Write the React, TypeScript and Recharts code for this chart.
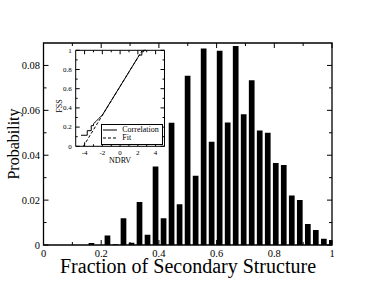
import React from "react";
import { BarChart, Bar, XAxis, YAxis, ReferenceArea, LineChart, Line, Legend } from "recharts";

const FONT = '"Liberation Serif", "Times New Roman", Times, serif';

// histogram: bin centres and probabilities
const binCenters = [
  0.1667, 0.1944, 0.2222, 0.25, 0.2778, 0.3056, 0.3333, 0.3611, 0.3889, 0.4167,
  0.4444, 0.4722, 0.5, 0.5278, 0.5556, 0.5833, 0.6111, 0.6389, 0.6667, 0.6944,
  0.7222, 0.75, 0.7778, 0.8056, 0.8333, 0.8611, 0.8889, 0.9167, 0.9444, 0.9722, 1.0,
];
const probability = [
  0.0009, 0, 0.0042, 0.0003, 0.0119, 0.001, 0.0192, 0.0046, 0.035, 0.0119,
  0.0545, 0.0182, 0.0754, 0.0308, 0.0875, 0.046, 0.0866, 0.0546, 0.0887, 0.0582,
  0.0734, 0.051, 0.05, 0.0365, 0.0356, 0.022, 0.0201, 0.0094, 0.0067, 0.0028, 0.0022,
];

const majorX = [0, 0.2, 0.4, 0.6, 0.8, 1];
const minorX = [0.1, 0.3, 0.5, 0.7, 0.9];
const majorY = [0, 0.02, 0.04, 0.06, 0.08];
const minorY = [0.01, 0.03, 0.05, 0.07];

// inset: cumulative correlation (stair corners) vs fit
const corrNdrv = [
  -4.4, -3.7, -3.7, -3.25, -3.25, -3.0, -3.0, -2.7, -2.4, -2.0, -1.0, 0, 1.0, 2.0,
  2.15, 2.45, 2.45, 2.65, 2.65, 2.9,
];
const corrFss = [
  0.115, 0.115, 0.163, 0.163, 0.215, 0.215, 0.235, 0.26, 0.29, 0.325, 0.475, 0.625,
  0.775, 0.925, 0.95, 0.95, 0.985, 0.985, 1.0, 1.0,
];
const fitNdrv = [-4.14, 2.5];
const fitFss = [0, 1];

const ndrvMajor = [-4, -2, 0, 2, 4];
const ndrvMinor = [-3, -1, 1, 3];
const fssMajor = [0, 0.2, 0.4, 0.6, 0.8, 1];
const fssMinor = [0.1, 0.3, 0.5, 0.7, 0.9];

const histData = binCenters.map((x, i) => ({ x, p: probability[i] }));
const corrData = corrNdrv.map((ndrv, i) => ({ ndrv, fss: corrFss[i] }));
const fitData = fitNdrv.map((ndrv, i) => ({ ndrv, fss: fitFss[i] }));

// plot boxes (px)
const MAIN_W = 288.5;
const MAIN_H = 202;
const INSET_W = 88.8;
const INSET_H = 96;

function makeXTick(major: number[], plotH: number, big: number, small: number, fontSize: number, dy: number) {
  return (props: any) => {
    const { x, y, payload } = props;
    const v = payload.value;
    const isMajor = major.includes(v);
    const len = isMajor ? big : small;
    const top = y - plotH;
    return (
      <g>
        <line x1={x} x2={x} y1={y} y2={y - len} stroke="#000" strokeWidth={1} />
        <line x1={x} x2={x} y1={top} y2={top + len} stroke="#000" strokeWidth={1} />
        {isMajor && (
          <text x={x} y={y + dy} textAnchor="middle" fontSize={fontSize} fontFamily={FONT} fill="#000">
            {String(v)}
          </text>
        )}
      </g>
    );
  };
}

function makeYTick(major: number[], plotW: number, big: number, small: number, fontSize: number, gap: number) {
  return (props: any) => {
    const { x, y, payload } = props;
    const v = payload.value;
    const isMajor = major.includes(v);
    const len = isMajor ? big : small;
    const right = x + plotW;
    return (
      <g>
        <line x1={x} x2={x + len} y1={y} y2={y} stroke="#000" strokeWidth={1} />
        <line x1={right} x2={right - len} y1={y} y2={y} stroke="#000" strokeWidth={1} />
        {isMajor && (
          <text x={x - gap} y={y + fontSize * 0.34} textAnchor="end" fontSize={fontSize} fontFamily={FONT} fill="#000">
            {String(v)}
          </text>
        )}
      </g>
    );
  };
}

function InsetLegend({ payload }: any) {
  return (
    <div
      style={{
        boxSizing: "border-box",
        width: 62.6,
        height: 20.7,
        border: "1px solid #000",
        background: "#fff",
        color: "#000",
        fontFamily: FONT,
        fontSize: 8,
        padding: "1.5px 0 0 1.6px",
      }}
    >
      {(payload || []).map((entry: any) => (
        <div key={entry.value} style={{ display: "flex", alignItems: "center", height: 7.6, lineHeight: "8px" }}>
          <svg width={17} height={4} style={{ display: "block" }}>
            <line
              x1={0}
              x2={14}
              y1={2}
              y2={2}
              stroke="#000"
              strokeWidth={1}
              strokeDasharray={entry.payload?.strokeDasharray}
            />
          </svg>
          <span style={{ marginLeft: 2, color: "#000" }}>{entry.value}</span>
        </div>
      ))}
    </div>
  );
}

export default function App() {
  return (
    <div style={{ position: "absolute", left: 0, top: 0, width: 374, height: 289, background: "#fff" }}>
      <BarChart width={374} height={289} data={histData} margin={{ top: 43, right: 42, bottom: 0, left: 3.5 }}>
        <XAxis
          dataKey="x"
          type="number"
          domain={[0, 1]}
          allowDataOverflow
          ticks={[...majorX, ...minorX]}
          interval={0}
          height={44}
          axisLine={false}
          tickLine={false}
          tickSize={0}
          tickMargin={0}
          tick={makeXTick(majorX, MAIN_H, 5, 3, 10.5, 11.5)}
          label={{
            content: () => (
              <text x={188} y={273} textAnchor="middle" fontSize={20} fontFamily={FONT} fill="#000">
                Fraction of Secondary Structure
              </text>
            ),
          }}
        />
        <YAxis
          type="number"
          domain={[0, 0.09]}
          ticks={[...majorY, ...minorY]}
          interval={0}
          width={40}
          axisLine={false}
          tickLine={false}
          tickSize={0}
          tickMargin={0}
          tick={makeYTick(majorY, MAIN_W, 5, 3, 10.5, 3.5)}
          label={{
            content: () => (
              <text
                x={18.5}
                y={144}
                transform="rotate(-90 18.5 144)"
                textAnchor="middle"
                fontSize={16}
                fontFamily={FONT}
                fill="#000"
              >
                Probability
              </text>
            ),
          }}
        />
        <ReferenceArea x1={0} x2={1} y1={0} y2={0.09} fill="none" fillOpacity={0} stroke="#000" strokeWidth={1.3} />
        <Bar dataKey="p" fill="#000" barSize={5.7} isAnimationActive={false} />
      </BarChart>

      <div style={{ position: "absolute", left: 52, top: 44, width: 120, height: 124 }}>
        <LineChart width={120} height={124} margin={{ top: 6.3, right: 7.5, bottom: 0, left: 3.7 }}>
          <XAxis
            dataKey="ndrv"
            type="number"
            domain={[-5, 5]}
            ticks={[...ndrvMajor, ...ndrvMinor]}
            interval={0}
            height={21.7}
            axisLine={false}
            tickLine={false}
            tickSize={0}
            tickMargin={0}
            tick={makeXTick(ndrvMajor, INSET_H, 4, 2, 7, 8.2)}
            label={{
              content: () => (
                <text x={68.1} y={118.5} textAnchor="middle" fontSize={8} fontFamily={FONT} fill="#000">
                  NDRV
                </text>
              ),
            }}
          />
          <YAxis
            type="number"
            domain={[0, 1]}
            ticks={[...fssMajor, ...fssMinor]}
            interval={0}
            width={20}
            axisLine={false}
            tickLine={false}
            tickSize={0}
            tickMargin={0}
            tick={makeYTick(fssMajor, INSET_W, 4, 2, 7, 4)}
            label={{
              content: () => (
                <text
                  x={9.5}
                  y={62}
                  transform="rotate(-90 9.5 62)"
                  textAnchor="middle"
                  fontSize={8}
                  fontFamily={FONT}
                  fill="#000"
                >
                  FSS
                </text>
              ),
            }}
          />
          <ReferenceArea x1={-5} x2={5} y1={0} y2={1} fill="none" fillOpacity={0} stroke="#000" strokeWidth={1} />
          <Line
            data={corrData}
            dataKey="fss"
            name="Correlation"
            type="linear"
            stroke="#000"
            strokeWidth={1}
            dot={false}
            isAnimationActive={false}
          />
          <Line
            data={fitData}
            dataKey="fss"
            name="Fit"
            type="linear"
            stroke="#000"
            strokeWidth={1}
            strokeDasharray="3 2"
            dot={false}
            isAnimationActive={false}
          />
          <Legend
            layout="vertical"
            align="center"
            verticalAlign="middle"
            content={<InsetLegend />}
            wrapperStyle={{ position: "absolute", left: 48.7, top: 80, width: 62.6, height: 20.7, margin: 0, padding: 0 }}
          />
        </LineChart>
      </div>
    </div>
  );
}
